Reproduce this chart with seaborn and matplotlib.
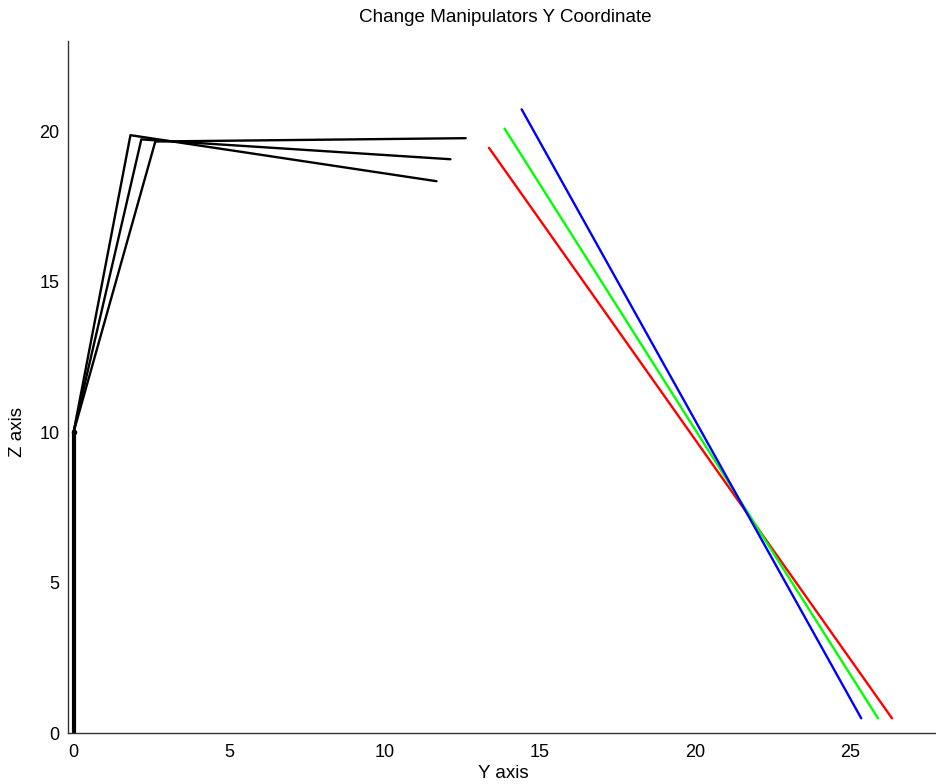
import matplotlib
matplotlib.use("Agg")
import matplotlib.pyplot as plt
import seaborn as sns
import pandas as pd

# --- data -------------------------------------------------------------
# manipulator joint positions (Y, Z) for three configurations
base_y = [0.0, 0.0]
base_z = [0.0, 10.0]
elbow_y = [1.83, 2.18, 2.63]
elbow_z = [19.87, 19.73, 19.66]
tip_y = [11.68, 12.13, 12.62]
tip_z = [18.34, 19.07, 19.77]

# coloured target lines (start / end)
line_names = ["red", "green", "blue"]
line_colors = ["#ff0000", "#00ff00", "#0000ff"]
line_y0 = [13.37, 13.87, 14.42]
line_z0 = [19.45, 20.09, 20.73]
line_y1 = [26.34, 25.89, 25.35]
line_z1 = [0.49, 0.49, 0.49]

title = "Change Manipulators Y Coordinate"
xlabel = "Y axis"
ylabel = "Z axis"
xticks = [0, 5, 10, 15, 20, 25]
yticks = [0, 5, 10, 15, 20]

# --- build tables ------------------------------------------------------
arm_rows = []
for i in range(3):
    pts = [(base_y[0], base_z[0]), (base_y[1], base_z[1]),
           (elbow_y[i], elbow_z[i]), (tip_y[i], tip_z[i])]
    for k, (y, z) in enumerate(pts):
        arm_rows.append({"cfg": i, "order": k, "Y": y, "Z": z})
arm = pd.DataFrame(arm_rows)

line_rows = []
for n, a, b, c, d in zip(line_names, line_y0, line_z0, line_y1, line_z1):
    line_rows.append({"name": n, "order": 0, "Y": a, "Z": b})
    line_rows.append({"name": n, "order": 1, "Y": c, "Z": d})
lines = pd.DataFrame(line_rows)

# --- plot ------------------------------------------------------------
sns.set_theme(style="white")
plt.rcParams["font.family"] = ["Liberation Sans", "DejaVu Sans"]

W, H = 936, 784
fig = plt.figure(figsize=(W / 100, H / 100), dpi=100)
L, R, T, B = 68, 936, 41, 733
ax = fig.add_axes([L / W, 1 - B / H, (R - L) / W, (B - T) / H])

for i in range(3):
    sub = arm[arm["cfg"] == i]
    sns.lineplot(data=sub, x="Y", y="Z", sort=False, estimator=None,
                 color="black", linewidth=1.7, ax=ax)
# thicker base link
sns.lineplot(x=base_y, y=base_z, sort=False, estimator=None,
             color="black", linewidth=3.0, ax=ax)
ax.plot([base_y[1]], [base_z[1]], "o", color="black", markersize=3)

sns.lineplot(data=lines, x="Y", y="Z", hue="name", units="name",
             estimator=None, sort=False, palette=dict(zip(line_names, line_colors)),
             linewidth=1.7, legend=False, ax=ax)

px_per_unit = 31.07
xmin = -0.18
ax.set_xlim(xmin, xmin + (R - L) / px_per_unit)
ax.set_ylim(0, 23.0)
ax.set_xticks(xticks)
ax.set_yticks(yticks)
ax.set_xticklabels([str(t) for t in xticks])
ax.set_yticklabels([str(t) for t in yticks])

for s in ["top", "right"]:
    ax.spines[s].set_visible(False)
for s in ["left", "bottom"]:
    ax.spines[s].set_color("#333333")
    ax.spines[s].set_linewidth(1.0)

ax.tick_params(axis="both", direction="in", length=5, width=0.9,
               color="#333333", labelsize=13, labelcolor="black", pad=6)
ax.tick_params(axis="x", pad=8)

ax.set_xlabel(xlabel, fontsize=13.5, color="black")
ax.set_ylabel(ylabel, fontsize=13.5, color="black")
ax.xaxis.set_label_coords((503 - L) / (R - L), -(765 - B) / (B - T))
ax.yaxis.set_label_coords(-(L - 26) / (R - L), (B - 432) / (B - T))

fig.text(505 / W, 1 - 18 / H, title, ha="center", va="center",
         fontsize=13.6, color="black")

fig.savefig("out.png", dpi=100)
